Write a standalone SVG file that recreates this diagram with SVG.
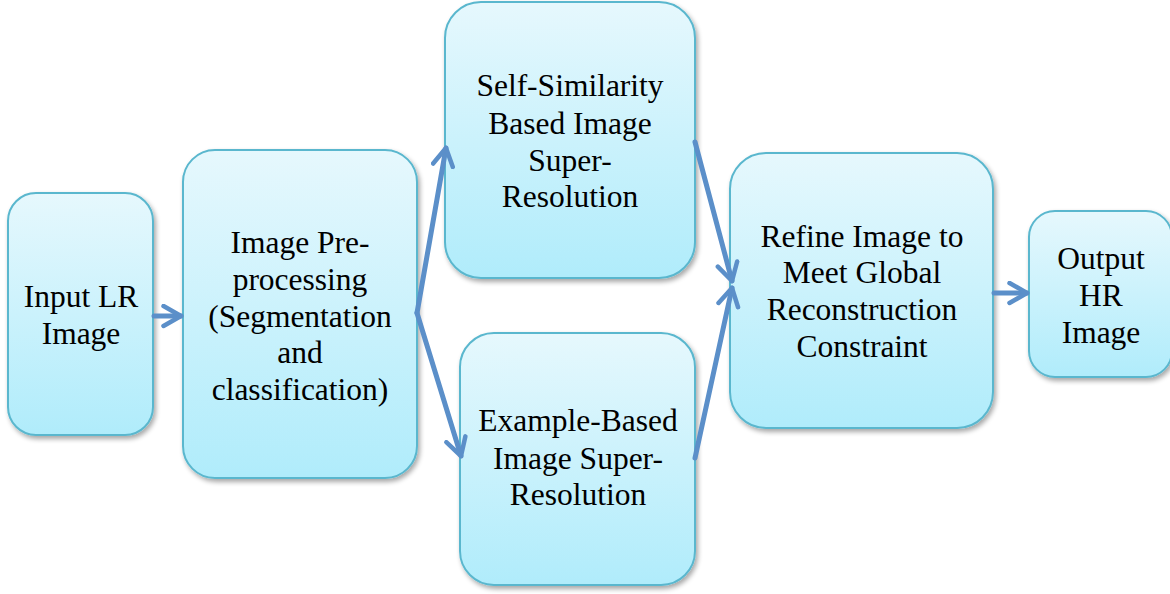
<svg xmlns="http://www.w3.org/2000/svg" width="1170" height="594" viewBox="0 0 1170 594">
<defs>
<linearGradient id="g" x1="0" y1="0" x2="0" y2="1">
<stop offset="0" stop-color="#e6f8fd"/>
<stop offset="1" stop-color="#b0ecfb"/>
</linearGradient>
<filter id="sh" x="-10%" y="-10%" width="130%" height="130%">
<feGaussianBlur in="SourceAlpha" stdDeviation="2.5"/>
<feOffset dx="2" dy="3" result="b"/>
<feComponentTransfer><feFuncA type="linear" slope="0.35"/></feComponentTransfer>
<feMerge><feMergeNode/><feMergeNode in="SourceGraphic"/></feMerge>
</filter>
<marker id="ah" viewBox="0 0 10 10" refX="8" refY="5" markerWidth="5" markerHeight="5" markerUnits="strokeWidth" orient="auto">
<path d="M1,1 L8,5 L1,9" fill="none" stroke="#5b8fc9" stroke-width="1.8" stroke-linecap="round" stroke-linejoin="round"/>
</marker>
</defs>
<style>
.box{fill:url(#g);stroke:#5ab7ce;stroke-width:2;filter:url(#sh)}
.t{font-family:"Liberation Serif","Times New Roman",serif;font-size:31.5px;fill:#000;text-anchor:middle}
.c{fill:none;stroke:#5b8fc9;stroke-width:5;stroke-linecap:round;marker-end:url(#ah)}
</style>
<rect width="1170" height="594" fill="#fff"/>
<g id="n1"><rect class="box" x="8" y="193" width="145" height="242" rx="28"/>
<text class="t" x="81" y="307">Input LR</text><text class="t" x="81" y="344">Image</text></g>
<g id="n2"><rect class="box" x="183" y="150" width="234" height="328" rx="32"/>
<text class="t" x="300" y="253">Image Pre-</text><text class="t" x="300" y="290">processing</text><text class="t" x="300" y="327">(Segmentation</text><text class="t" x="300" y="363">and</text><text class="t" x="300" y="400">classification)</text></g>
<g id="n3"><rect class="box" x="445" y="2" width="250" height="276" rx="36"/>
<text class="t" x="570" y="96">Self-Similarity</text><text class="t" x="570" y="134">Based Image</text><text class="t" x="570" y="171">Super-</text><text class="t" x="570" y="207">Resolution</text></g>
<g id="n4"><rect class="box" x="460" y="333" width="235" height="252" rx="34"/>
<text class="t" x="578" y="431">Example-Based</text><text class="t" x="578" y="469">Image Super-</text><text class="t" x="578" y="505">Resolution</text></g>
<g id="n5"><rect class="box" x="730" y="153" width="263" height="275" rx="36"/>
<text class="t" x="862" y="247">Refine Image to</text><text class="t" x="862" y="283">Meet Global</text><text class="t" x="862" y="320">Reconstruction</text><text class="t" x="862" y="357">Constraint</text></g>
<g id="n6"><rect class="box" x="1029" y="211" width="143" height="166" rx="26"/>
<text class="t" x="1101" y="269">Output</text><text class="t" x="1101" y="306">HR</text><text class="t" x="1101" y="343">Image</text></g>
<g id="connectors">
<line class="c" x1="154" y1="316" x2="181" y2="316"/>
<line class="c" x1="417" y1="313" x2="446" y2="148"/>
<line class="c" x1="417" y1="313" x2="461" y2="456"/>
<line class="c" x1="695" y1="142" x2="732" y2="281"/>
<line class="c" x1="695" y1="458" x2="732" y2="288"/>
<line class="c" x1="994" y1="293" x2="1027" y2="293"/>
</g>
</svg>
